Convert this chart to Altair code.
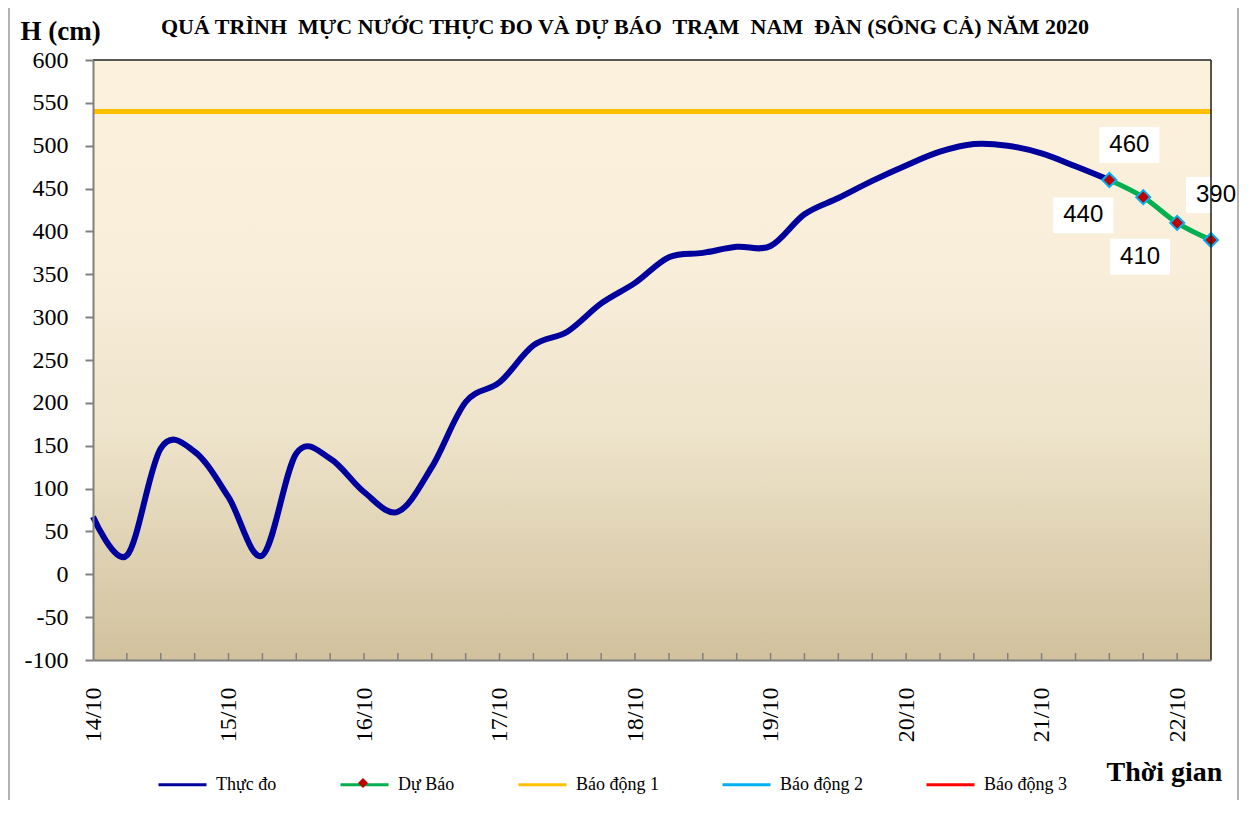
import altair as alt
import pandas as pd

# ---------------- data ----------------
START = "2020-10-14 00:00:00"
STEP = "6h"
observed = [67, 22, 147, 143, 90, 22, 141, 135, 96, 73, 125, 201, 224, 267, 283,
            316, 340, 370, 375, 382, 383, 420, 439, 459, 477, 493, 502, 500, 491,
            476, 460]
forecast = [460, 440, 410, 390]
forecast_labels = ["460", "440", "410", "390"]
alarm_names = ["Báo động 1", "Báo động 2", "Báo động 3"]
alarm_levels = [540, 690, 790]
series_names = ["Thực đo", "Dự Báo", "Báo động 1", "Báo động 2", "Báo động 3"]
series_colors = ["#00009C", "#00B050", "#FFC000", "#00B0F0", "#FF0000"]
day_dates = [14, 15, 16, 17, 18, 19, 20, 21, 22]
y_ticks = list(range(-100, 601, 50))
NB = "\u00a0"
TITLE = ("QUÁ TRÌNH" + NB + " MỰC NƯỚC THỰC ĐO VÀ DỰ BÁO" + NB + " TRẠM" + NB +
         " NAM" + NB + " ĐÀN (SÔNG CẢ) NĂM 2020")

n_obs = len(observed)
n_total = n_obs + len(forecast) - 1
times = pd.date_range(START, periods=n_total, freq=STEP)

obs_df = pd.DataFrame({"time": times[:n_obs], "value": observed, "series": "Thực đo"})
fc_df = pd.DataFrame({"time": times[n_obs - 1:], "value": forecast, "series": "Dự Báo",
                      "label": forecast_labels, "marker": "Dự Báo"})
alarm_df = pd.DataFrame({"value": alarm_levels, "series": alarm_names})
tick_df = pd.DataFrame({"time": times[1:-1]})

W, H = 1118, 600
SERIF = "Liberation Serif"
SANS = "Liberation Sans"
GREY = "#808080"

x_enc = alt.X(
    "time:T",
    scale=alt.Scale(domain=[alt.DateTime(year=2020, month=10, date=14, hours=0),
                            alt.DateTime(year=2020, month=10, date=22, hours=6)]),
    axis=alt.Axis(
        values=[alt.DateTime(year=2020, month=10, date=d, hours=0) for d in day_dates],
        format="%d/%m", labelAngle=270, labelFont=SERIF, labelFontSize=24,
        labelColor="black", labelPadding=27, labelFlush=False, labelOverlap=False,
        ticks=False, domainColor=GREY, domainWidth=2, grid=False, zindex=1,
        title="Thời gian", titleFont=SERIF, titleFontSize=28, titleFontWeight="bold",
        titleColor="black", titleX=1071, titleY=112, titleAlign="center",
        titleBaseline="middle", titleAngle=0,
    ),
)
y_enc = alt.Y(
    "value:Q",
    scale=alt.Scale(domain=[-100, 600], nice=False, zero=False),
    axis=alt.Axis(
        values=y_ticks, labelExpr="toString(datum.value)",
        labelFont=SERIF, labelFontSize=24, labelColor="black",
        labelPadding=17, tickSize=8, tickColor=GREY, tickWidth=2,
        domainColor=GREY, domainWidth=2, grid=False, zindex=1,
        title="H (cm)", titleFont=SERIF, titleFontSize=27, titleFontWeight="bold",
        titleColor="black", titleAngle=0, titleX=-73, titleY=-29,
        titleAlign="left", titleBaseline="middle",
    ),
)
color_enc = alt.Color(
    "series:N",
    scale=alt.Scale(domain=series_names, range=series_colors),
    legend=alt.Legend(
        orient="none", direction="horizontal", legendX=64, legendY=699,
        title=None, symbolType="stroke", symbolSize=2304, symbolStrokeWidth=3,
        labelFont=SERIF, labelFontSize=18, labelColor="black", labelOffset=8,
        columnPadding=57, padding=0,
    ),
)

gradient = alt.Gradient(
    gradient="linear", x1=0, y1=0, x2=0, y2=1,
    stops=[alt.GradientStop(color="#FCF1DD", offset=0),
           alt.GradientStop(color="#F8EEDA", offset=0.35),
           alt.GradientStop(color="#EEE4CB", offset=0.62),
           alt.GradientStop(color="#D1C19D", offset=1)],
)

one = pd.DataFrame({"t": [TITLE]})

background = alt.Chart(one).mark_rect(color=gradient).encode(
    x=alt.value(0), x2=alt.value(W), y=alt.value(0), y2=alt.value(H))

border_top = alt.Chart(one).mark_rule(color="#222222", strokeWidth=1.5).encode(
    x=alt.value(0), x2=alt.value(W), y=alt.value(0))
border_right = alt.Chart(one).mark_rule(color="#222222", strokeWidth=1.5).encode(
    x=alt.value(W), y=alt.value(0), y2=alt.value(H))
frame_left = alt.Chart(one).mark_rule(color="#9a9a9a", strokeWidth=1.5).encode(
    x=alt.value(-84), y=alt.value(-60), y2=alt.value(740))
frame_right = alt.Chart(one).mark_rule(color="#9a9a9a", strokeWidth=1.5).encode(
    x=alt.value(1145), y=alt.value(-60), y2=alt.value(740))

ticks = alt.Chart(tick_df).mark_rule(color=GREY, strokeWidth=1.5).encode(
    x=x_enc, y=alt.value(H), y2=alt.value(H - 7))

alarms = alt.Chart(alarm_df).mark_rule(strokeWidth=5, clip=True).encode(
    y=y_enc, color=color_enc)

obs_line = alt.Chart(obs_df).mark_line(interpolate="cardinal", strokeWidth=6).encode(
    x=x_enc, y=y_enc, color=color_enc)

fc_line = alt.Chart(fc_df).mark_line(interpolate="cardinal", strokeWidth=5).encode(
    x=x_enc, y=y_enc, color=color_enc)

fc_points = alt.Chart(fc_df).mark_point(
    filled=True, fill="#C00000", stroke="#00B0F0", strokeWidth=2, size=196, opacity=1
).encode(
    x=x_enc, y=y_enc,
    shape=alt.Shape("marker:N", scale=alt.Scale(domain=["Dự Báo"], range=["diamond"]),
                    legend=alt.Legend(orient="none", legendX=261, legendY=714, title=None,
                                      labelExpr="''", symbolFillColor="#C00000",
                                      symbolStrokeColor="#00B0F0", symbolStrokeWidth=1.5,
                                      symbolSize=100, padding=0, labelFontSize=18)),
)

offsets = {"460": (20, -35), "440": (-60, 18), "410": (-37, 34), "390": (5, -45)}
BOX = "M-1,-0.6L1,-0.6L1,0.6L-1,0.6Z"
label_layers = []
for lab, (dx, dy) in offsets.items():
    base = alt.Chart(fc_df).transform_filter(alt.datum.label == lab)
    label_layers.append(base.mark_point(shape=BOX, size=3600, filled=True, fill="white",
                                        strokeWidth=0, opacity=1, xOffset=dx, yOffset=dy)
                        .encode(x=x_enc, y=y_enc))
    label_layers.append(base.mark_text(dx=dx, dy=dy, font=SANS, fontSize=24, color="black",
                                       align="center", baseline="middle")
                        .encode(x=x_enc, y=y_enc, text="label:N"))

title = alt.Chart(one).mark_text(font=SERIF, fontSize=22, fontWeight="bold", color="black",
                                 align="center", baseline="alphabetic").encode(
    x=alt.value(532), y=alt.value(-26), text="t:N")

chart = alt.layer(
    background, ticks, alarms, obs_line, fc_line, fc_points, *label_layers,
    border_top, border_right, frame_left, frame_right, title,
).properties(
    width=W, height=H,
    autosize=alt.AutoSizeParams(type="none"),
    padding={"left": 85, "top": 52, "right": 28, "bottom": 145},
).configure_view(stroke=None).configure(background="white")

chart.save("out.html", embed_options={"renderer": "svg", "actions": False})
